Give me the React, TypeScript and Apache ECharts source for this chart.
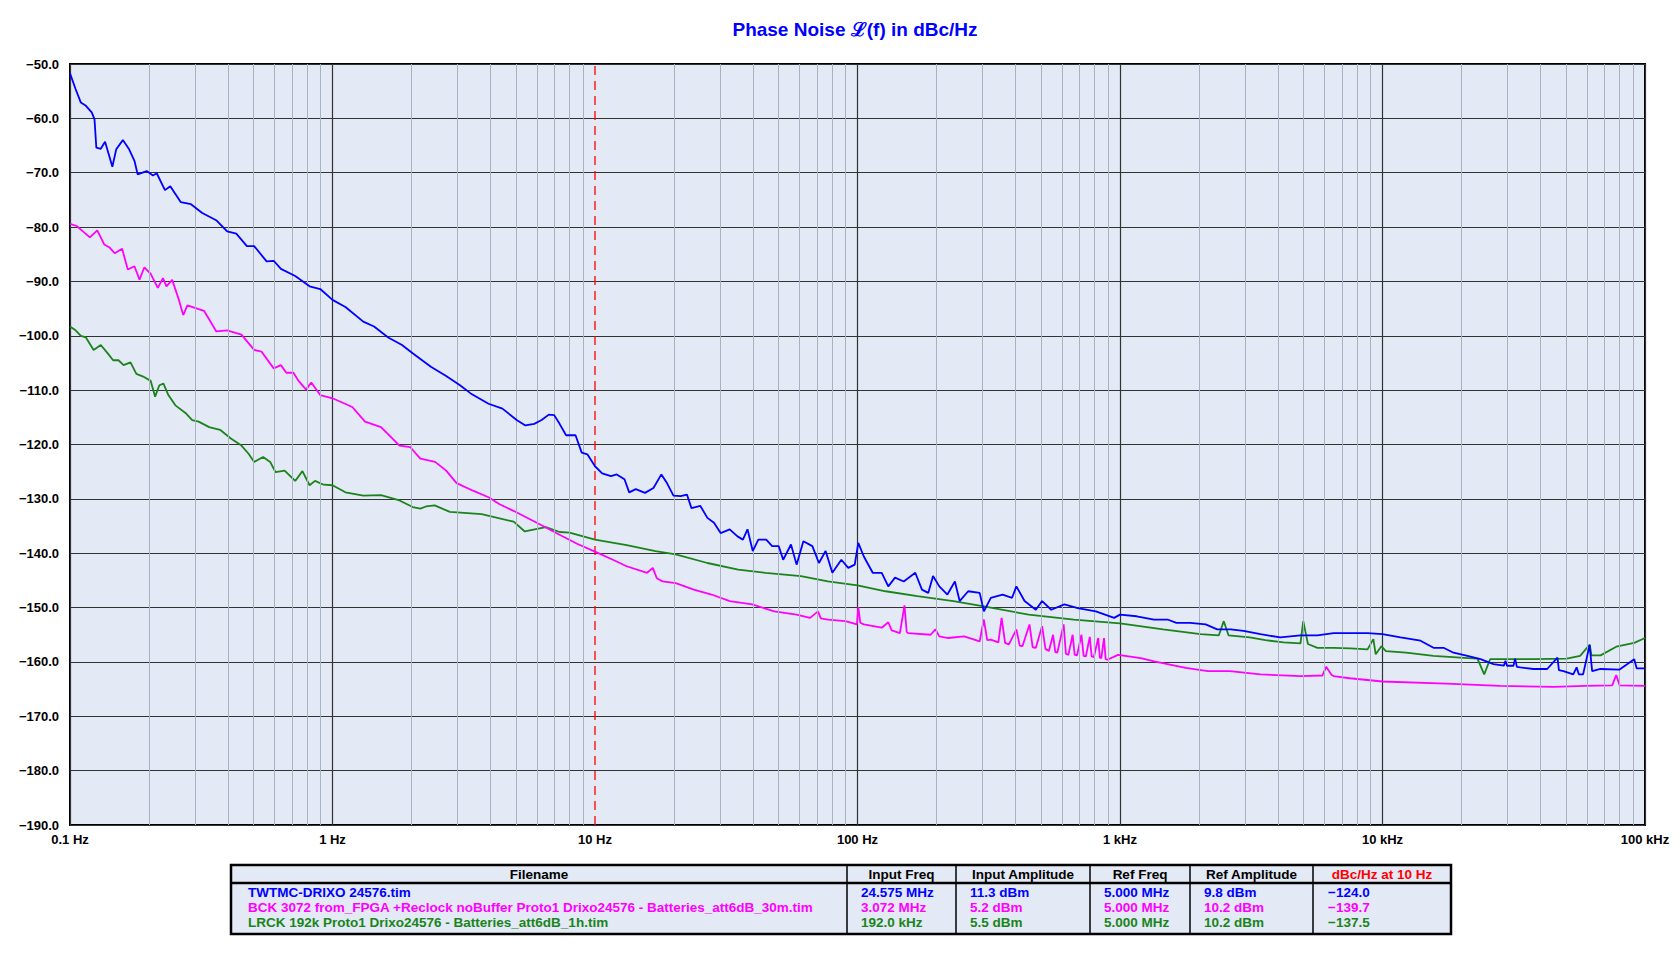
import React, { useEffect, useRef } from "react";
import * as echarts from "echarts";

// ---------- data ----------
const blueFreq = [0.1,0.105,0.11,0.115,0.121,0.124,0.126,0.131,0.136,0.141,0.145,0.15,0.159,0.168,0.176,0.181,0.196,0.207,0.214,0.23,0.241,0.264,0.289,0.319,0.362,0.397,0.43,0.472,0.503,0.561,0.597,0.636,0.721,0.818,0.898,1.0,1.12,1.31,1.44,1.63,1.84,2.02,2.37,2.71,3.06,3.36,3.93,4.44,5.03,5.43,5.87,6.26,6.67,6.99,7.33,7.76,8.43,8.9,9.35,10,10.65,11.5,12.1,12.95,13.5,14.3,15.5,16.7,17.9,18.8,19.9,21.2,22.4,23.3,25.2,26.8,28.4,30.1,32.6,34.9,36.6,38.1,39.9,41.9,44.9,47.3,50.1,52.1,55.8,58.6,62.2,67.3,71.3,75.6,80.2,86.8,92.2,97.6,100.7,105.7,114.3,123.7,131,139,150,166,176,186,194,205,220,235,245,264,292,303,322,357,388,403,433,478,505,547,614,690,809,950,1000,1157,1347,1517,1640,1850,2120,2345,2640,2955,3430,4080,4870,5650,6510,7550,8770,10000,11710,13960,15640,17080,18650,21070,23630,26470,29000,29400,29800,31550,32000,32500,33510,37600,42400,46400,47000,48900,53300,54900,56000,58100,61500,62900,67700,80000,91000,93000,100000];
const blueDb = [-51.7,-54.6,-57.1,-57.7,-58.9,-60.2,-65.4,-65.6,-64.3,-66.9,-68.9,-65.7,-64.0,-65.7,-67.8,-70.3,-69.7,-70.5,-70.1,-73.2,-72.5,-75.4,-75.8,-77.4,-78.8,-80.8,-81.2,-83.5,-83.5,-86.3,-86.2,-87.7,-89.0,-90.9,-91.4,-93.4,-94.7,-97.4,-98.3,-100.3,-101.7,-103.2,-105.7,-107.4,-109.1,-110.6,-112.5,-113.4,-115.5,-116.5,-116.2,-115.5,-114.5,-114.6,-116.2,-118.3,-118.3,-121.5,-121.8,-124.0,-125.3,-125.8,-125.5,-126.4,-128.8,-128.2,-128.9,-128.0,-125.5,-127.1,-129.4,-129.5,-129.2,-131.7,-131.3,-133.5,-134.4,-136.3,-135.6,-136.9,-137.5,-135.6,-139.6,-137.5,-137.5,-138.7,-138.7,-141.2,-138.4,-142.1,-137.8,-138.7,-141.8,-139.6,-143.6,-141.2,-142.7,-142.1,-138.1,-140.6,-143.6,-143.6,-146.1,-144.5,-145.2,-143.6,-146.7,-147.3,-144.2,-146.1,-147.6,-145.2,-148.8,-147.0,-147.3,-150.7,-148.2,-147.6,-148.2,-146.1,-148.8,-150.4,-148.8,-150.4,-149.4,-150.1,-150.7,-151.9,-151.3,-151.6,-152.2,-152.2,-152.8,-152.8,-153.1,-154.0,-154.0,-154.3,-154.9,-155.5,-155.1,-155.1,-154.7,-154.7,-154.7,-154.9,-155.5,-156.1,-157.4,-157.4,-158.3,-158.9,-159.5,-160.4,-160.7,-159.8,-160.7,-160.7,-159.4,-160.9,-161.0,-161.3,-161.3,-159.2,-161.5,-161.7,-162.3,-161.0,-162.3,-162.3,-156.9,-161.7,-161.3,-161.4,-159.5,-161.2,-161.2];

const magentaFreq = [0.1,0.106,0.112,0.119,0.127,0.135,0.141,0.148,0.158,0.166,0.176,0.184,0.192,0.203,0.216,0.226,0.233,0.245,0.26,0.27,0.28,0.324,0.361,0.397,0.45,0.503,0.536,0.597,0.636,0.667,0.71,0.74,0.793,0.83,0.898,1.0,1.19,1.33,1.53,1.8,1.98,2.16,2.46,2.71,2.97,3.43,3.93,4.33,4.89,5.9,7.33,8.58,10,11.7,13.2,15.8,16.6,17.2,18.1,20.3,23.8,27.8,32.6,39.7,48.2,58.6,66.0,70.7,72.5,77.1,90.0,99.5,100.7,102.5,105.7,123.7,131,135,145,151,154,156,190,198,205,222,255,292,303,312,322,344,354,365,377,403,415,425,452,465,478,505,520,536,556,567,577,610,622,636,660,672,686,713,727,741,767,780,795,826,838,849,869,882,895,983,1200,1350,1780,2160,2620,3430,4870,5900,6100,6400,6510,7500,10000,17500,28000,45000,59000,75000,77700,80000,100000];
const magentaDb = [-79.4,-79.8,-80.8,-81.9,-80.6,-83.2,-83.7,-84.8,-84.0,-87.8,-87.2,-89.7,-87.4,-88.6,-91.2,-89.4,-90.9,-89.7,-93.4,-96.2,-94.4,-95.4,-99.2,-99.0,-99.8,-102.6,-102.9,-106.0,-105.4,-106.8,-106.8,-108.2,-109.9,-108.6,-110.9,-111.5,-113.1,-115.8,-116.8,-120.2,-120.5,-122.6,-123.2,-124.8,-127.1,-128.5,-129.7,-131.0,-132.2,-134.2,-136.6,-138.3,-139.7,-141.2,-142.4,-143.6,-142.7,-144.6,-145.2,-145.5,-146.7,-147.6,-148.8,-149.4,-150.7,-151.3,-151.9,-150.7,-152.0,-152.2,-152.5,-153.1,-149.9,-152.8,-153.1,-153.7,-152.7,-154.2,-154.7,-149.6,-154.5,-154.7,-155.0,-154.0,-155.3,-155.6,-155.3,-156.2,-152.2,-156.0,-155.9,-156.4,-151.9,-156.5,-156.8,-154.0,-157.0,-157.1,-153.1,-157.3,-157.4,-153.4,-157.6,-158.0,-155.0,-158.2,-158.3,-153.1,-158.5,-158.7,-155.0,-158.7,-158.8,-155.0,-158.9,-159.0,-155.4,-159.0,-159.1,-155.6,-159.2,-159.3,-155.6,-159.5,-159.6,-158.7,-159.3,-159.9,-161.1,-161.7,-161.7,-162.3,-162.6,-162.5,-160.9,-162.4,-162.6,-163.0,-163.6,-164.0,-164.4,-164.6,-164.4,-164.3,-162.4,-164.3,-164.4];

const greenFreq = [0.1,0.105,0.11,0.115,0.123,0.131,0.139,0.146,0.153,0.16,0.17,0.179,0.19,0.203,0.211,0.219,0.227,0.237,0.252,0.277,0.292,0.309,0.339,0.373,0.41,0.45,0.479,0.503,0.544,0.579,0.607,0.657,0.721,0.768,0.818,0.858,0.925,1.0,1.12,1.31,1.53,1.8,2.02,2.16,2.27,2.45,2.8,3.7,4.9,5.4,6.5,7.33,8.0,10,13.2,17.0,20.3,26.8,35.1,44.6,60.9,77.1,100,128,169,232,303,449,667,1000,1460,2027,2380,2485,2590,3120,3580,4200,4870,4990,5200,5650,6510,7550,8770,9230,9420,9900,10300,12300,15640,19800,23000,24400,25700,32600,37600,50300,56600,61600,62500,67700,77700,91000,100000];
const greenDb = [-98.3,-99.0,-100.0,-100.3,-102.6,-101.7,-103.2,-104.5,-104.5,-105.4,-104.9,-107.0,-107.5,-108.3,-111.2,-109.1,-108.8,-110.9,-112.8,-114.3,-115.5,-115.8,-116.8,-117.3,-118.9,-120.2,-121.7,-123.2,-122.3,-123.2,-125.1,-124.8,-126.7,-124.9,-127.5,-126.7,-127.4,-127.5,-128.8,-129.4,-129.3,-130.3,-131.5,-131.8,-131.4,-131.2,-132.4,-132.8,-134.2,-136.0,-135.2,-136.1,-136.2,-137.5,-138.5,-139.6,-140.2,-141.8,-143.0,-143.6,-144.2,-145.2,-145.9,-147.0,-147.9,-148.8,-149.8,-151.3,-152.2,-152.9,-154.0,-154.9,-155.1,-152.5,-155.1,-155.5,-156.0,-156.4,-156.6,-152.5,-156.7,-157.4,-157.4,-157.5,-157.7,-155.8,-158.6,-157.1,-158.0,-158.3,-158.9,-159.2,-159.4,-162.3,-159.5,-159.5,-159.5,-159.4,-158.9,-156.8,-158.8,-158.8,-157.2,-156.5,-155.6];

const xTickLabels = ["0.1 Hz", "1 Hz", "10 Hz", "100 Hz", "1 kHz", "10 kHz", "100 kHz"];
const minorMultipliers = [2, 3, 4, 5, 6, 7, 8, 9];
const decades = [0.1, 1, 10, 100, 1000, 10000];
const markerFreq = 10;
const yMin = -190;
const yMax = -50;

const tableHeaders = ["Filename", "Input Freq", "Input Amplitude", "Ref Freq", "Ref Amplitude", "dBc/Hz at 10 Hz"];
const tableFiles = [
  "TWTMC-DRIXO 24576.tim",
  "BCK 3072 from_FPGA +Reclock noBuffer Proto1 Drixo24576 - Batteries_att6dB_30m.tim",
  "LRCK 192k Proto1 Drixo24576 - Batteries_att6dB_1h.tim",
];
const tableInputFreq = ["24.575 MHz", "3.072 MHz", "192.0 kHz"];
const tableInputAmp = ["11.3 dBm", "5.2 dBm", "5.5 dBm"];
const tableRefFreq = ["5.000 MHz", "5.000 MHz", "5.000 MHz"];
const tableRefAmp = ["9.8 dBm", "10.2 dBm", "10.2 dBm"];
const tableAt10Hz = ["\u2212124.0", "\u2212139.7", "\u2212137.5"];

const seriesNames = ["TWTMC-DRIXO 24576", "BCK 3072", "LRCK 192k"];
const seriesColors = ["#0000ff", "#ff00ff", "#1a841a"];

// ---------- layout ----------
const GRID_L = 70, GRID_R = 35, GRID_T = 64, GRID_B = 142;
const NARROW = "'Liberation Sans Narrow', 'Arial Narrow', 'Liberation Sans', Arial, sans-serif";
const colX = [231, 847, 956, 1090, 1190, 1313, 1451];
const tableTop = 865, headerBottom = 883, tableBottom = 934;
const rowY = [892.5, 907.5, 922.5];

const zip = (f: number[], d: number[]) => f.map((v, i) => [v, d[i]]);

function buildTable(): any[] {
  const els: any[] = [];
  els.push({
    type: "rect",
    shape: { x: colX[0], y: tableTop, width: colX[6] - colX[0], height: tableBottom - tableTop },
    style: { fill: "#e3e9f5", stroke: "#000", lineWidth: 2.5 },
    z: 10,
  });
  els.push({
    type: "line",
    shape: { x1: colX[0], y1: headerBottom, x2: colX[6], y2: headerBottom },
    style: { stroke: "#000", lineWidth: 2.5 },
    z: 11,
  });
  for (let i = 1; i < 6; i++) {
    els.push({
      type: "line",
      shape: { x1: colX[i], y1: tableTop, x2: colX[i], y2: tableBottom },
      style: { stroke: "#000", lineWidth: 1.5 },
      z: 11,
    });
  }
  tableHeaders.forEach((h, i) => {
    els.push({
      type: "text",
      x: (colX[i] + colX[i + 1]) / 2,
      y: (tableTop + headerBottom) / 2,
      style: {
        text: h,
        fill: i === 5 ? "#ff0000" : "#000",
        font: `bold 13.5px ${NARROW}`,
        align: "center",
        verticalAlign: "middle",
      },
      z: 12,
    });
  });
  const cols = [tableFiles, tableInputFreq, tableInputAmp, tableRefFreq, tableRefAmp, tableAt10Hz];
  const pads = [17, 14, 14, 14, 14, 15];
  for (let r = 0; r < 3; r++) {
    cols.forEach((col, c) => {
      els.push({
        type: "text",
        x: colX[c] + pads[c],
        y: rowY[r],
        style: {
          text: col[r],
          fill: seriesColors[r],
          font: `bold 13.5px ${NARROW}`,
          align: "left",
          verticalAlign: "middle",
        },
        z: 12,
      });
    });
  }
  return els;
}

export default function App() {
  const ref = useRef<HTMLDivElement>(null);
  useEffect(() => {
    if (!ref.current) return;
    const chart = echarts.init(ref.current, undefined, { renderer: "svg" });
    const minorLines: any[] = [];
    decades.forEach((d) => minorMultipliers.forEach((m) => minorLines.push({ xAxis: +(d * m).toPrecision(6) })));

    const option: any = {
      animation: false,
      backgroundColor: "#ffffff",
      title: {
        text: "Phase Noise \u2112(f) in dBc/Hz",
        left: 850,
        top: 15,
        textAlign: "center",
        textStyle: { color: "#0000ff", fontWeight: "bold", fontSize: 19, fontFamily: "'Liberation Sans', Arial, sans-serif" },
      },
      grid: {
        left: GRID_L, right: GRID_R, top: GRID_T, bottom: GRID_B,
        show: true, backgroundColor: "#e3e9f5", borderColor: "#000", borderWidth: 2,
      },
      xAxis: {
        type: "log",
        logBase: 10,
        min: 0.1,
        max: 100000,
        splitNumber: 6,
        axisLine: { show: false },
        axisTick: { show: false },
        splitLine: {
          show: true,
          lineStyle: { color: ["#333", "#333", "rgba(0,0,0,0)", "#333", "#333", "#333", "#333"], width: 1.2 },
        },
        axisLabel: {
          margin: 8,
          color: "#000",
          fontWeight: "bold",
          fontSize: 13,
          fontFamily: NARROW,
          showMinLabel: true,
          showMaxLabel: true,
          formatter: (v: number) => {
            const idx = Math.round(Math.log10(v)) + 1;
            return xTickLabels[idx] ?? "";
          },
        },
      },
      yAxis: {
        type: "value",
        min: yMin,
        max: yMax,
        interval: 10,
        axisLine: { show: false },
        axisTick: { show: false },
        splitLine: { show: true, lineStyle: { color: "#333", width: 1.2 } },
        axisLabel: {
          margin: 11,
          color: "#000",
          fontWeight: "bold",
          fontSize: 13,
          fontFamily: NARROW,
          formatter: (v: number) => (v < 0 ? "\u2212" : "") + Math.abs(v).toFixed(1),
        },
      },
      series: [
        {
          name: "minor-grid",
          type: "line",
          data: [],
          silent: true,
          z: 1,
          markLine: {
            silent: true,
            symbol: ["none", "none"],
            label: { show: false },
            lineStyle: { color: "#a9b2c2", width: 1, type: "solid" },
            data: minorLines,
          },
        },
        {
          name: "marker",
          type: "line",
          silent: true,
          showSymbol: false,
          z: 1.5,
          lineStyle: { color: "#ff0000", width: 1.3, type: [9, 6] },
          data: [[markerFreq, yMin], [markerFreq, yMax]],
        },
        {
          name: seriesNames[2], type: "line", showSymbol: false, z: 3,
          lineStyle: { color: seriesColors[2], width: 1.8 }, itemStyle: { color: seriesColors[2] },
          data: zip(greenFreq, greenDb),
        },
        {
          name: seriesNames[1], type: "line", showSymbol: false, z: 4,
          lineStyle: { color: seriesColors[1], width: 1.8 }, itemStyle: { color: seriesColors[1] },
          data: zip(magentaFreq, magentaDb),
        },
        {
          name: seriesNames[0], type: "line", showSymbol: false, z: 5,
          lineStyle: { color: seriesColors[0], width: 1.8 }, itemStyle: { color: seriesColors[0] },
          data: zip(blueFreq, blueDb),
        },
      ],
      graphic: buildTable(),
    };
    chart.setOption(option);
    return () => chart.dispose();
  }, []);
  return <div ref={ref} style={{ position: "absolute", left: 0, top: 0, width: 1680, height: 967 }} />;
}
